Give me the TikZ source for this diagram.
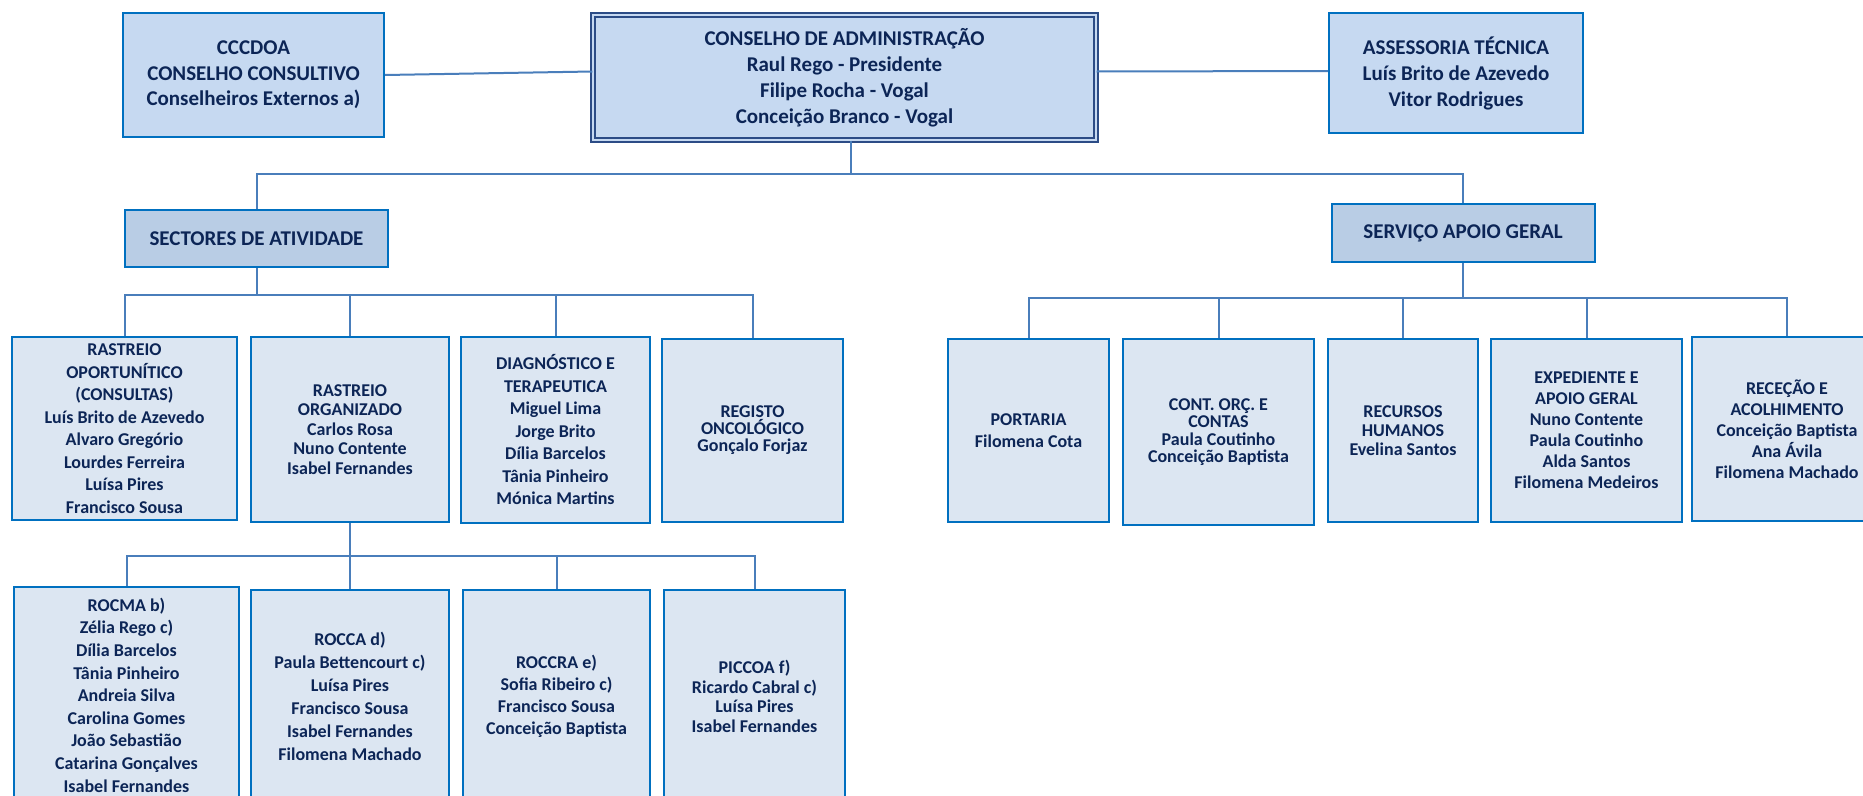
\documentclass[tikz,border=0pt]{standalone}
\usepackage{fontspec}
\setmainfont{Carlito}
\definecolor{boxfill}{HTML}{DCE6F2}
\definecolor{topfill}{HTML}{C6D9F1}
\definecolor{secfill}{HTML}{B9CDE5}
\definecolor{bordc}{HTML}{0070C0}
\definecolor{connc}{HTML}{4A7EBB}
\definecolor{txtc}{HTML}{0C2556}
\definecolor{cabord}{HTML}{2C4C86}
\begin{document}
\begin{tikzpicture}[x=1pt,y=-1pt,
  base/.style={rectangle, inner sep=0pt, align=center, text=txtc, font=\bfseries\fontsize{18}{22.5}\selectfont},
  rowbox/.style={base, draw=bordc, line width=2pt, fill=boxfill},
  topbox/.style={base, draw=bordc, line width=2pt, fill=topfill, font=\bfseries\fontsize{21}{25.5}\selectfont},
  secbox/.style={topbox, fill=secfill},
  cabox/.style={base, draw=cabord, line width=1.4pt, double=topfill, double distance=2.6pt, fill=topfill, font=\bfseries\fontsize{21}{26}\selectfont},
  conn/.style={draw=connc, line width=2pt},
  sz/.style 2 args={minimum width=#1pt, minimum height=#2pt},
  lsk/.style={font=\bfseries\fontsize{18}{#1}\selectfont}]
\useasboundingbox (0,0) rectangle (1863,795);
\clip (0,0) rectangle (1863,795);
\fill[white] (0,0) rectangle (1863,795);

% top level
\node[topbox, sz={261}{124}] (cccdoa) at (253.5,75) {CCCDOA\\CONSELHO CONSULTIVO\\Conselheiros Externos a)};
\node[cabox, sz={503}{125}] (ca) at (844.5,77.5) {CONSELHO DE ADMINISTRAÇÃO\\Raul Rego - Presidente\\Filipe Rocha - Vogal\\Conceição Branco - Vogal};
\node[topbox, sz={254}{120}, font=\bfseries\fontsize{21}{26}\selectfont] (at) at (1456,73) {ASSESSORIA TÉCNICA\\Luís Brito de Azevedo\\Vitor Rodrigues};

\node[secbox, sz={263}{57}] (sect) at (256.5,238.5) {SECTORES DE ATIVIDADE};
\node[secbox, sz={263}{58}] (serv) at (1463,233) {SERVIÇO APOIO GERAL};

% sectores de atividade
\node[rowbox, sz={225}{183}] (ro) at (124.5,428.5) {RASTREIO\\OPORTUNÍTICO\\(CONSULTAS)\\Luís Brito de Azevedo\\Alvaro Gregório\\Lourdes Ferreira\\Luísa Pires\\Francisco Sousa};
\node[rowbox, sz={198}{185}, lsk=19.5] (rorg) at (350,429.5) {RASTREIO\\ORGANIZADO\\Carlos Rosa\\Nuno Contente\\Isabel Fernandes};
\node[rowbox, sz={189}{186}] (diag) at (555.5,430) {DIAGNÓSTICO E\\TERAPEUTICA\\Miguel Lima\\Jorge Brito\\Dília Barcelos\\Tânia Pinheiro\\Mónica Martins};
\node[rowbox, sz={181}{183}, lsk=17] (reg) at (752.5,430.5) {REGISTO\\ONCOLÓGICO\\Gonçalo Forjaz};

% servico apoio geral
\node[rowbox, sz={161}{183}, lsk=22] (port) at (1028.5,430.5) {PORTARIA\\Filomena Cota};
\node[rowbox, sz={191}{186}, lsk=17.5] (cont) at (1218.5,432) {CONT. ORÇ. E\\CONTAS\\Paula Coutinho\\Conceição Baptista};
\node[rowbox, sz={150}{183}, lsk=19] (rh) at (1403,430.5) {RECURSOS\\HUMANOS\\Evelina Santos};
\node[rowbox, sz={191}{183}, lsk=21] (exp) at (1586.5,430.5) {EXPEDIENTE E\\APOIO GERAL\\Nuno Contente\\Paula Coutinho\\Alda Santos\\Filomena Medeiros};
\node[rowbox, sz={190}{184}, lsk=21] (rec) at (1787,429) {RECEÇÃO E\\ACOLHIMENTO\\Conceição Baptista\\Ana Ávila\\Filomena Machado};

% rastreio organizado children
\node[rowbox, sz={225}{216}, lsk=22.6] (rocma) at (126.5,695) {ROCMA b)\\Zélia Rego c)\\Dília Barcelos\\Tânia Pinheiro\\Andreia Silva\\Carolina Gomes\\João Sebastião\\Catarina Gonçalves\\Isabel Fernandes};
\node[rowbox, sz={198}{213}, lsk=23] (rocca) at (350,696.5) {ROCCA d)\\Paula Bettencourt c)\\Luísa Pires\\Francisco Sousa\\Isabel Fernandes\\Filomena Machado};
\node[rowbox, sz={187}{213}, lsk=22] (roccra) at (556.5,696.5) {ROCCRA e)\\Sofia Ribeiro c)\\Francisco Sousa\\Conceição Baptista};
\node[rowbox, sz={181}{213}, lsk=19.5] (piccoa) at (754.5,696.5) {PICCOA f)\\Ricardo Cabral c)\\Luísa Pires\\Isabel Fernandes};

% connectors
\draw[conn] (cccdoa.east) -- ([yshift=6pt]ca.west);
\draw[conn] ([yshift=6pt]ca.east) -- ([yshift=2pt]at.west);

\coordinate (bus0) at (851,174);
\draw[conn] ([xshift=6.5pt]ca.south) -- (bus0);
\draw[conn] (sect.north) |- (bus0);
\draw[conn] (serv.north) |- (bus0);

\coordinate (busL) at (256.5,295);
\draw[conn] (sect.south) -- (busL);
\foreach \n in {ro,rorg,diag,reg} \draw[conn] (\n.north) |- (busL);

\coordinate (busR) at (1463,298);
\draw[conn] (serv.south) -- (busR);
\foreach \n in {port,cont,rh,exp,rec} \draw[conn] (\n.north) |- (busR);

\coordinate (busB) at (350,556);
\draw[conn] (rorg.south) -- (busB);
\foreach \n in {rocma,rocca,roccra,piccoa} \draw[conn] (\n.north) |- (busB);
\end{tikzpicture}
\end{document}
